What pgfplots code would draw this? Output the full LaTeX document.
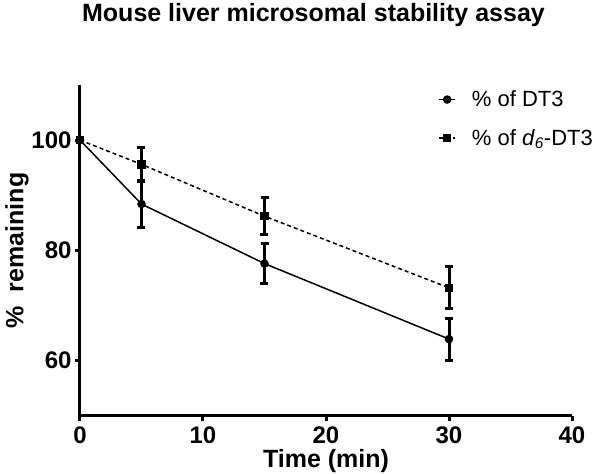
\documentclass[border=0pt]{standalone}
\usepackage{fontspec}
\setmainfont{Liberation Sans}
\usepackage{pgfplots}
\pgfplotsset{compat=1.18}
\begin{document}
\begin{tikzpicture}[x=1pt,y=1pt]
\useasboundingbox (-80,-58.3) rectangle (520,415.7);
\begin{axis}[
  at={(0,0)}, anchor=south west,
  scale only axis, width=492pt, height=330.7pt,
  xmin=0, xmax=40, ymin=50, ymax=110,
  axis x line*=bottom, axis y line*=left,
  axis line style={line width=3pt},
  xtick={0,10,20,30,40}, ytick={60,80,100},
  tick style={line width=3pt, black}, tick align=outside, major tick length=5pt,
  /pgf/number format/assume math mode=true,
  ticklabel style={font=\fontsize{24}{24}\selectfont\bfseries},
  xticklabel style={yshift=-3pt},
  xlabel={Time (min)}, ylabel={\%\ \ remaining},
  label style={font=\fontsize{25}{25}\selectfont\bfseries},
  xlabel style={yshift=1.5pt},
  ylabel style={yshift=-4pt},
  clip=false,
  legend cell align=left,
  legend style={draw=none, fill=none, at={(0.722,0.995)}, anchor=north west,
    font=\fontsize{22}{22}\selectfont, row sep=17pt, column sep=14pt},
  legend image code/.code={%
    \draw[#1, mark=none] (0pt,0pt) -- (16pt,0pt);
    \draw[#1] plot[only marks] coordinates {(8pt,0pt)};},
]
\addplot[black, solid, line width=1.5pt, mark=*, mark size=3.5pt, mark options={solid}]
  coordinates {(0,100) (5,88.4) (15,77.6) (30,63.9)};
\addlegendentry{\% of DT3}
\addplot[black, dashed, dash pattern=on 4pt off 3pt, line width=1.5pt, mark=square*, mark size=3.5pt, mark options={solid}]
  coordinates {(0,100) (5,95.6) (15,86.2) (30,73.2)};
\addlegendentry{\% of \textit{d}\textsubscript{\textit{6}}-DT3}
\addplot[draw=none, mark=none, forget plot, error bars/.cd, y dir=both, y explicit,
  error bar style={line width=3pt, solid, black},
  error mark options={rotate=90, mark size=4pt, line width=3pt, black}]
  coordinates {(5,88.4) +- (0,4.3) (15,77.6) +- (0,3.7) (30,63.9) +- (0,3.8)};
\addplot[draw=none, mark=none, forget plot, error bars/.cd, y dir=both, y explicit,
  error bar style={line width=3pt, solid, black},
  error mark options={rotate=90, mark size=4pt, line width=3pt, black}]
  coordinates {(5,95.6) +- (0,3.1) (15,86.2) +- (0,3.4) (30,73.2) +- (0,3.8)};
\end{axis}
\node[anchor=base, font=\fontsize{25}{25}\selectfont\bfseries] at (233.5,393.7) {Mouse liver microsomal stability assay};
\end{tikzpicture}
\end{document}
